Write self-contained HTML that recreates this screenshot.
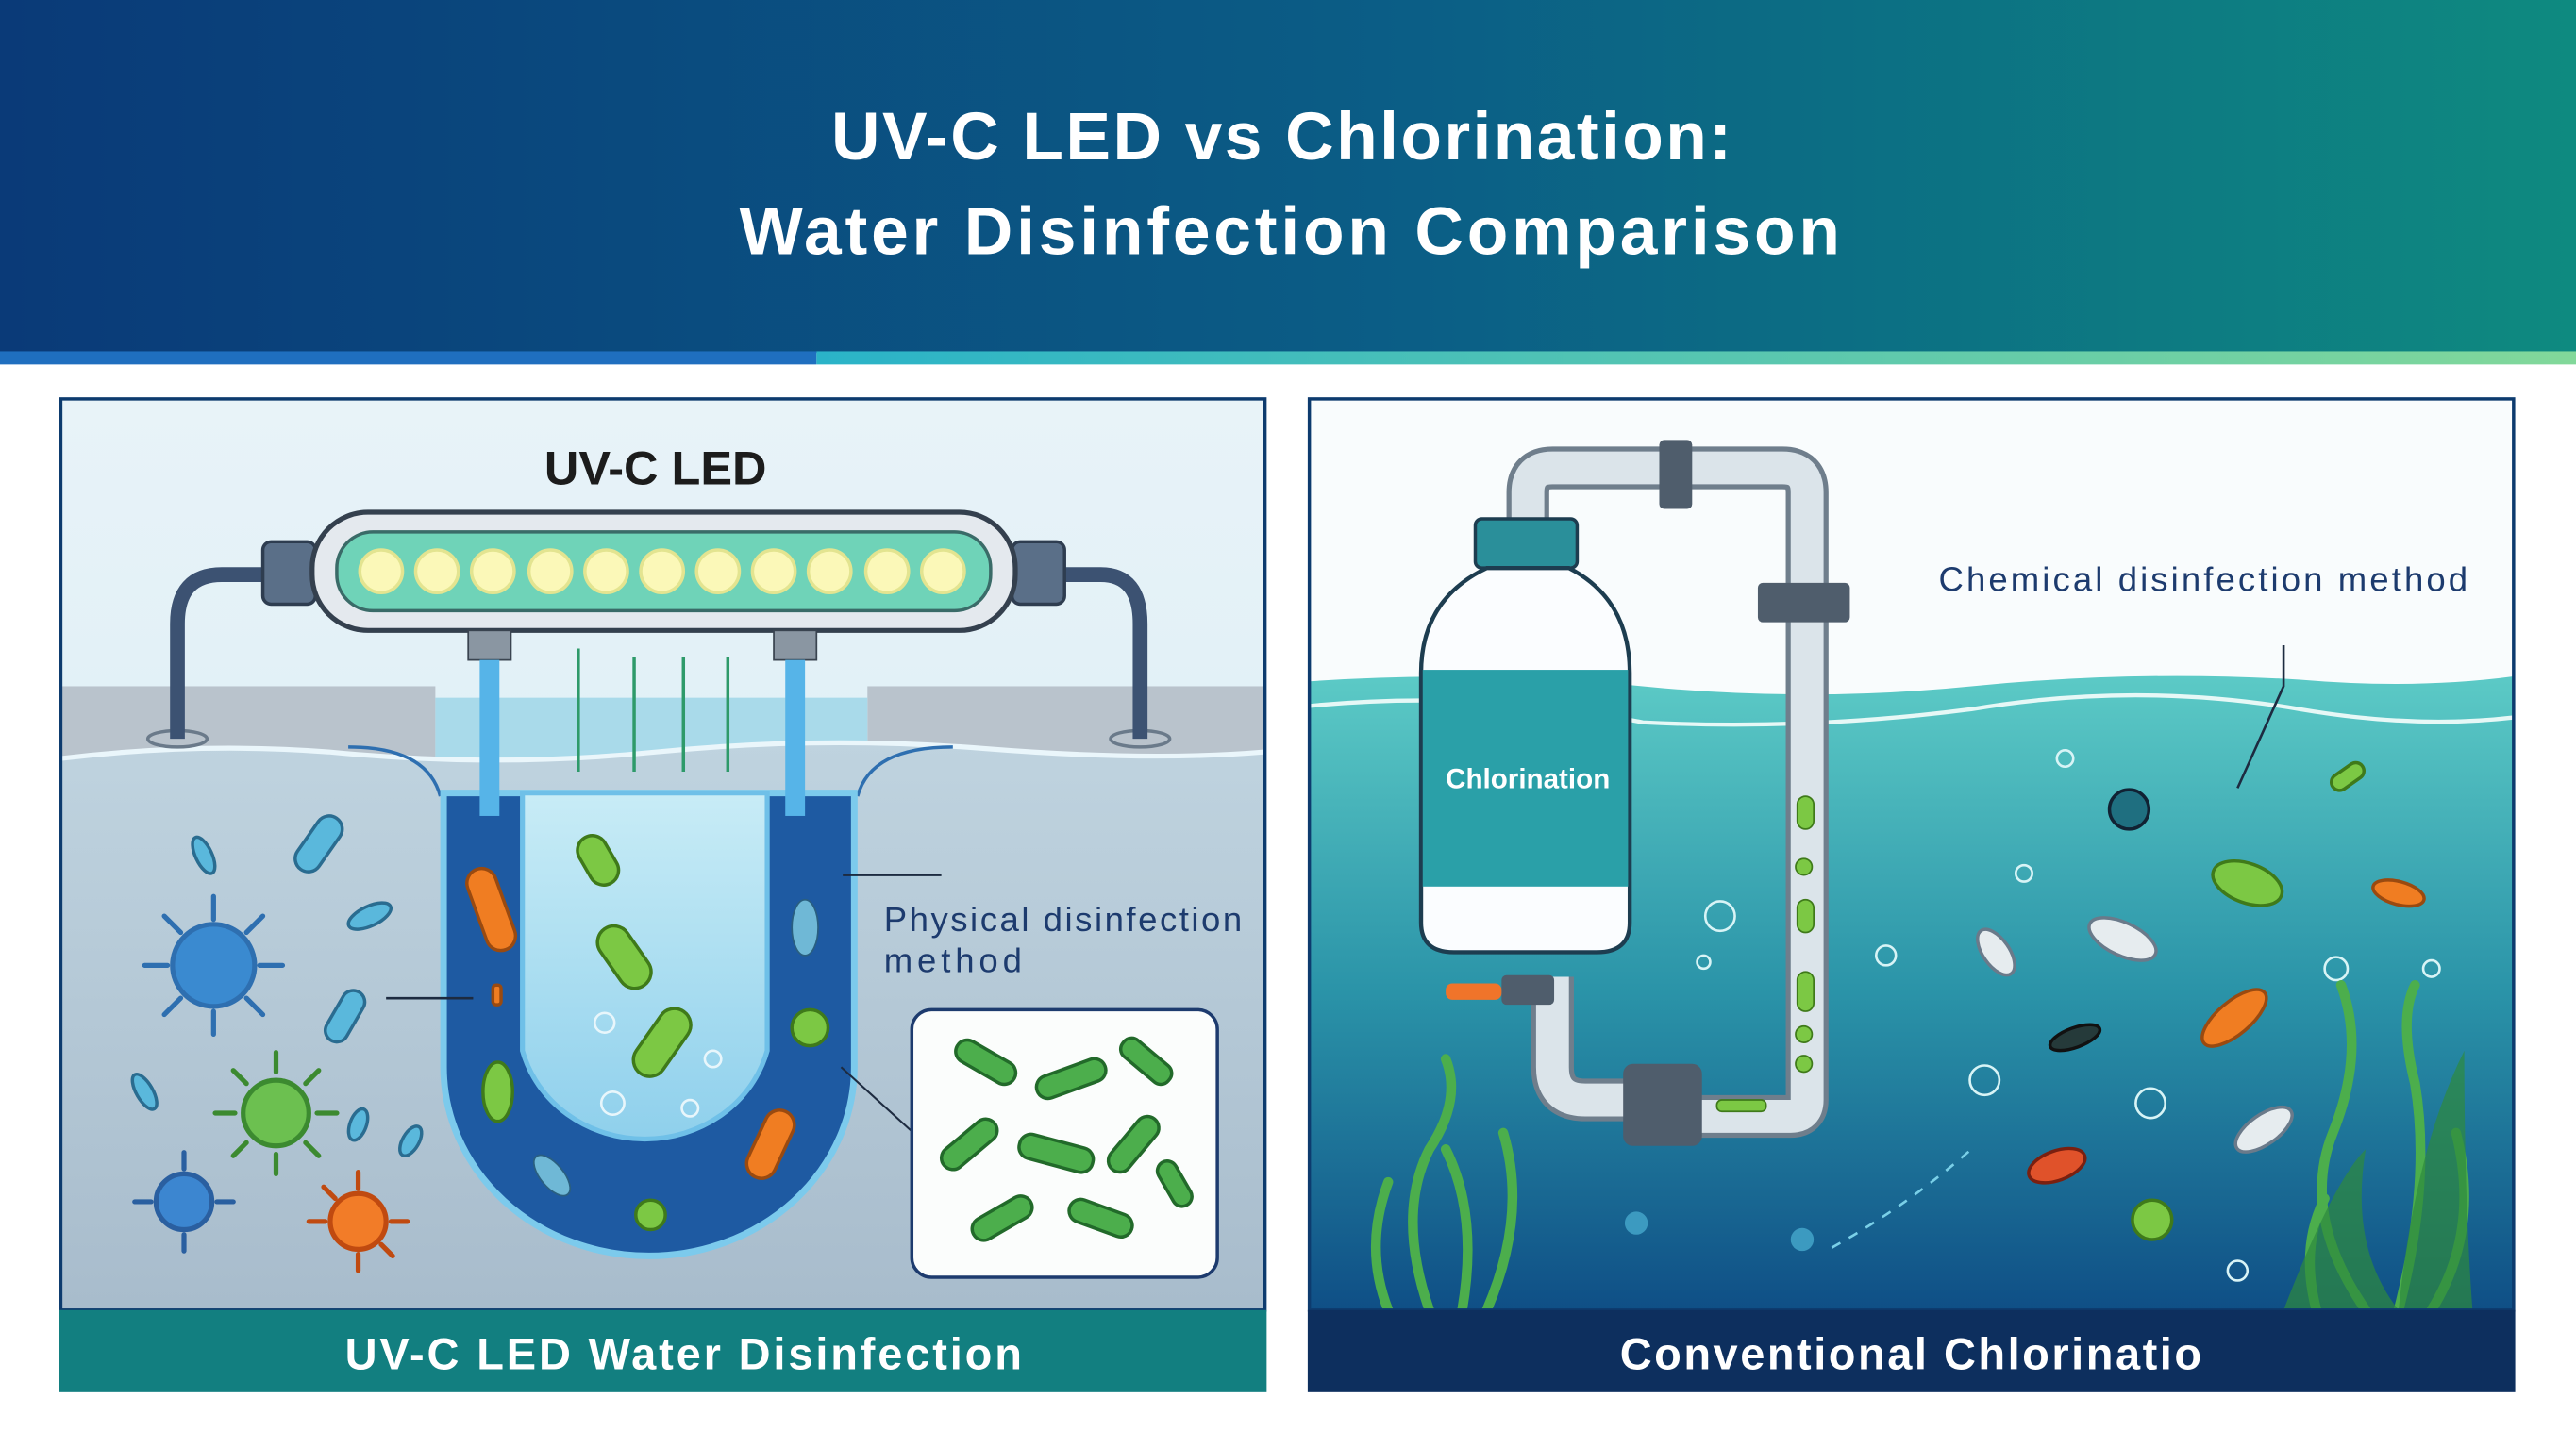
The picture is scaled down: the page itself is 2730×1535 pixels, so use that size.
<!DOCTYPE html>
<html><head><meta charset="utf-8"><style>
html,body{margin:0;padding:0;background:#fff;}
svg{display:block;font-family:"Liberation Sans",sans-serif;}
</style></head><body>
<svg width="2730" height="1535" viewBox="0 0 1568 882" preserveAspectRatio="none" xmlns="http://www.w3.org/2000/svg">
<defs>
<linearGradient id="hdr" x1="0" x2="1" y1="0" y2="0"><stop offset="0" stop-color="#0a3a78"/><stop offset="0.55" stop-color="#0b5e86"/><stop offset="1" stop-color="#0e8a80"/></linearGradient>
<linearGradient id="strip" x1="0" x2="1"><stop offset="0" stop-color="#2ab3c8"/><stop offset="1" stop-color="#82d89a"/></linearGradient>
<linearGradient id="lsky" x1="0" y1="0" x2="0" y2="1"><stop offset="0" stop-color="#e8f3f8"/><stop offset="1" stop-color="#d6ecf4"/></linearGradient>
<linearGradient id="lwater" x1="0" y1="0" x2="0" y2="1"><stop offset="0" stop-color="#bfd3df"/><stop offset="1" stop-color="#a8bccc"/></linearGradient>
<linearGradient id="rwater" x1="0" y1="0" x2="0" y2="1"><stop offset="0" stop-color="#5ccac6"/><stop offset="0.5" stop-color="#2a93a8"/><stop offset="1" stop-color="#0f4f86"/></linearGradient>
<linearGradient id="inner" x1="0" y1="0" x2="0" y2="1"><stop offset="0" stop-color="#c8ecf6"/><stop offset="1" stop-color="#8fd0ec"/></linearGradient>
</defs>
<rect x="0" y="0" width="1568" height="215" fill="url(#hdr)"/>
<rect x="0" y="214" width="497" height="8" fill="#1f6fbf"/>
<rect x="497" y="214" width="1071" height="8" fill="url(#strip)"/>
<text x="780" y="97" text-anchor="middle" fill="#fff" font-size="41" font-weight="bold" textLength="548">UV-C LED vs Chlorination:</text>
<text x="785" y="155" text-anchor="middle" fill="#fff" font-size="41" font-weight="bold" textLength="670">Water Disinfection Comparison</text>

<rect x="37" y="243" width="733" height="555" fill="url(#lsky)"/>
<rect x="37" y="418" width="228" height="45" fill="#b9c3cc"/>
<rect x="528" y="418" width="242" height="45" fill="#b9c3cc"/>
<rect x="265" y="425" width="263" height="40" fill="#a9daea"/>
<path d="M37 462 Q120 452 200 458 Q300 468 400 458 Q500 448 600 456 Q700 464 770 458 L770 798 L37 798 Z" fill="url(#lwater)"/>
<path d="M37 462 Q120 452 200 458 Q300 468 400 458 Q500 448 600 456 Q700 464 770 458" fill="none" stroke="#eaf6fb" stroke-width="3"/>
<ellipse cx="108" cy="450" rx="18" ry="5" fill="none" stroke="#6a7a8a" stroke-width="2"/>
<ellipse cx="694" cy="450" rx="18" ry="5" fill="none" stroke="#6a7a8a" stroke-width="2"/>
<path d="M165 350 L135 350 Q108 350 108 380 L108 450" fill="none" stroke="#3c5272" stroke-width="9"/>
<path d="M643 350 L670 350 Q694 350 694 380 L694 450" fill="none" stroke="#3c5272" stroke-width="9"/>
<rect x="160" y="330" width="32" height="38" rx="5" fill="#5a6f88" stroke="#2e3d50" stroke-width="2"/>
<rect x="616" y="330" width="32" height="38" rx="5" fill="#5a6f88" stroke="#2e3d50" stroke-width="2"/>
<rect x="190" y="312" width="428" height="72" rx="34" fill="#e4e9ee" stroke="#34404e" stroke-width="3"/>
<rect x="205" y="324" width="398" height="48" rx="22" fill="#6fd3b8" stroke="#3a6b68" stroke-width="2"/>
<g fill="#fbf8b8" stroke="#e3e490" stroke-width="2">
<circle cx="232" cy="348" r="13"/><circle cx="266" cy="348" r="13"/><circle cx="300" cy="348" r="13"/><circle cx="335" cy="348" r="13"/><circle cx="369" cy="348" r="13"/><circle cx="403" cy="348" r="13"/><circle cx="437" cy="348" r="13"/><circle cx="471" cy="348" r="13"/><circle cx="505" cy="348" r="13"/><circle cx="540" cy="348" r="13"/><circle cx="574" cy="348" r="13"/></g>
<rect x="285" y="384" width="26" height="18" fill="#8a96a2" stroke="#3a4450"/>
<rect x="471" y="384" width="26" height="18" fill="#8a96a2" stroke="#3a4450"/>
<text x="399" y="295" text-anchor="middle" font-size="29" font-weight="bold" fill="#1c1c1c">UV-C LED</text>
<path d="M212 455 Q260 455 268 485" fill="none" stroke="#2e6fb0" stroke-width="2"/>
<path d="M580 455 Q530 455 522 485" fill="none" stroke="#2e6fb0" stroke-width="2"/>
<path d="M270 483 L270 650 A125 115 0 0 0 520 650 L520 483 Z" fill="#1e5aa2" stroke="#7ccaec" stroke-width="4"/>
<path d="M318 483 L318 640 A77 72 0 0 0 467 640 L467 483 Z" fill="url(#inner)" stroke="#6fc0e8" stroke-width="3"/>
<rect x="292" y="402" width="12" height="95" fill="#56b4e8"/>
<rect x="478" y="402" width="12" height="95" fill="#56b4e8"/>
<g stroke="#2e9a6a" stroke-width="2"><line x1="352" y1="395" x2="352" y2="470"/><line x1="386" y1="400" x2="386" y2="470"/><line x1="416" y1="400" x2="416" y2="470"/><line x1="443" y1="400" x2="443" y2="470"/></g>
<g stroke="#3f7a1a" stroke-width="2" fill="#7cc844">
<rect x="355" y="508" width="18" height="32" rx="9" transform="rotate(-30 364 524)"/>
<rect x="370" y="562" width="20" height="42" rx="10" transform="rotate(-35 380 583)"/>
<rect x="393" y="612" width="20" height="46" rx="10" transform="rotate(35 403 635)"/>
<ellipse cx="303" cy="665" rx="9" ry="18"/>
<circle cx="493" cy="626" r="11"/><circle cx="396" cy="740" r="9"/>
</g>
<g stroke="#9a4a10" stroke-width="2" fill="#f07d22">
<rect x="290" y="528" width="18" height="52" rx="9" transform="rotate(-20 299 554)"/>
<rect x="460" y="675" width="18" height="44" rx="9" transform="rotate(25 469 697)"/>
<rect x="300" y="600" width="5" height="12" rx="2"/></g>
<ellipse cx="490" cy="565" rx="8" ry="17" fill="#6fb8d6" stroke="#2a5f80"/>
<ellipse cx="336" cy="716" rx="7" ry="15" fill="#6fb8d6" stroke="#2a5f80" transform="rotate(-40 336 716)"/>
<g fill="none" stroke="#e8f6fb" stroke-width="1.5"><circle cx="368" cy="623" r="6"/><circle cx="373" cy="672" r="7"/><circle cx="420" cy="675" r="5"/><circle cx="434" cy="645" r="5"/></g>
<g fill="#5ab8dc" stroke="#2a6c90" stroke-width="2">
<ellipse cx="124" cy="521" rx="5" ry="12" transform="rotate(-25 124 521)"/>
<rect x="186" y="495" width="16" height="38" rx="8" transform="rotate(35 194 514)"/>
<ellipse cx="225" cy="558" rx="14" ry="6" transform="rotate(-25 225 558)"/>
<rect x="203" y="602" width="14" height="34" rx="7" transform="rotate(30 210 619)"/>
<ellipse cx="88" cy="665" rx="5" ry="12" transform="rotate(-30 88 665)"/>
<ellipse cx="218" cy="685" rx="5" ry="10" transform="rotate(20 218 685)"/>
<ellipse cx="250" cy="695" rx="5" ry="10" transform="rotate(30 250 695)"/>
</g>
<g stroke-width="3" stroke-linecap="round">
<g stroke="#2e6fb0" fill="#3a8ad0"><path d="M130 560v-14M130 616v14M102 588h-14M158 588h14M110 568l-10-10M150 608l10 10M150 568l10-10M110 608l-10 10"/><circle cx="130" cy="588" r="25"/></g>
<g stroke="#3c8a30" fill="#6cc050"><path d="M168 653v-12M168 703v12M143 678h-12M193 678h12M150 660l-8-8M186 696l8 8M186 660l8-8M150 696l-8 8"/><circle cx="168" cy="678" r="20"/></g>
<g stroke="#2a5fa0" fill="#3c86d0"><path d="M112 712v-10M112 752v10M92 732h-10M132 732h10"/><circle cx="112" cy="732" r="17"/></g>
<g stroke="#c04a10" fill="#f27c28"><path d="M218 724v-10M218 764v10M198 744h-10M238 744h10M204 730l-7-7M232 758l7 7"/><circle cx="218" cy="744" r="17"/></g>
</g>
<line x1="513" y1="533" x2="573" y2="533" stroke="#1d2b40" stroke-width="1.5"/>
<line x1="235" y1="608" x2="288" y2="608" stroke="#1d2b40" stroke-width="1.5"/>
<line x1="512" y1="650" x2="556" y2="690" stroke="#1d2b40" stroke-width="1.2"/>
<text x="538" y="567" font-size="21" fill="#1d3b6e" textLength="218">Physical disinfection</text>
<text x="538" y="592" font-size="21" fill="#1d3b6e" textLength="84">method</text>
<rect x="555" y="615" width="186" height="163" rx="12" fill="#fbfdfc" stroke="#1d3b6e" stroke-width="2"/>
<g fill="#4cae4c" stroke="#226a2a" stroke-width="2">
<rect x="580" y="640" width="40" height="14" rx="7" transform="rotate(30 600 647)"/><rect x="630" y="650" width="44" height="14" rx="7" transform="rotate(-20 652 657)"/><rect x="680" y="640" width="36" height="13" rx="6" transform="rotate(40 698 646)"/>
<rect x="570" y="690" width="40" height="14" rx="7" transform="rotate(-40 590 697)"/><rect x="620" y="695" width="46" height="15" rx="7" transform="rotate(15 643 702)"/><rect x="670" y="690" width="40" height="14" rx="7" transform="rotate(-50 690 697)"/>
<rect x="590" y="735" width="40" height="14" rx="7" transform="rotate(-30 610 742)"/><rect x="650" y="735" width="40" height="14" rx="7" transform="rotate(20 670 742)"/><rect x="700" y="715" width="30" height="12" rx="6" transform="rotate(60 715 721)"/>
</g>
<rect x="37" y="243" width="733" height="555" fill="none" stroke="#0d3b6e" stroke-width="2"/>
<rect x="36" y="798" width="735" height="50" fill="#127f80"/>
<text x="416" y="834" text-anchor="middle" font-size="27" font-weight="bold" fill="#fff" textLength="412">UV-C LED Water Disinfection</text>

<rect x="797" y="243" width="733" height="555" fill="#f9fcfd"/>
<path d="M797 415 Q900 408 1000 418 Q1100 428 1200 418 Q1300 408 1400 414 Q1470 420 1530 412 L1530 798 L797 798 Z" fill="url(#rwater)"/>
<path d="M797 430 Q900 420 1000 440 Q1100 445 1200 432 Q1300 415 1400 432 Q1470 444 1530 437" fill="none" stroke="#e6f8f6" stroke-width="2.5"/>
<path d="M930 330 L930 300 Q930 285 945 285 L1085 285 Q1100 285 1100 300 L1100 670 Q1100 680 1090 680 L1010 680 M945 595 L945 650 Q945 670 965 670 L1010 670" fill="none" stroke="#6f7e8c" stroke-width="26"/>
<path d="M930 330 L930 300 Q930 285 945 285 L1085 285 Q1100 285 1100 300 L1100 670 Q1100 680 1090 680 L1010 680 M945 595 L945 650 Q945 670 965 670 L1010 670" fill="none" stroke="#dbe4ea" stroke-width="20"/>
<rect x="1010" y="268" width="20" height="42" rx="3" fill="#4f5d6c"/>
<rect x="1070" y="355" width="56" height="24" rx="3" fill="#4f5d6c"/>
<rect x="988" y="648" width="48" height="50" rx="6" fill="#4f5d6c"/>
<rect x="914" y="594" width="32" height="18" rx="3" fill="#4f5d6c"/>
<rect x="880" y="599" width="34" height="10" rx="4" fill="#f0742a"/>
<g fill="#7cc844" stroke="#3f7a1a"><rect x="1094" y="485" width="10" height="20" rx="5"/><circle cx="1098" cy="528" r="5"/><rect x="1094" y="548" width="10" height="20" rx="5"/><rect x="1094" y="592" width="10" height="24" rx="5"/><circle cx="1098" cy="630" r="5"/><circle cx="1098" cy="648" r="5"/><rect x="1045" y="670" width="30" height="7" rx="3"/></g>
<rect x="898" y="316" width="62" height="30" rx="4" fill="#2a8f9a" stroke="#1d3d50" stroke-width="2"/>
<path d="M905 346 L955 346 Q992 365 992 410 L992 562 Q992 580 972 580 L885 580 Q865 580 865 562 L865 410 Q865 365 905 346 Z" fill="#fbfdff" stroke="#1d3d50" stroke-width="2.5"/>
<rect x="866" y="408" width="125" height="132" fill="#2aa0a8"/>
<text x="930" y="480" text-anchor="middle" font-size="17" font-weight="bold" fill="#fff">Chlorination</text>
<text x="1180" y="360" font-size="21" fill="#1d3b6e" textLength="322">Chemical disinfection method</text>
<path d="M1390 393 L1390 418 L1362 480" fill="none" stroke="#1d2b40" stroke-width="1.5"/>
<g stroke-width="2">
<circle cx="1296" cy="493" r="12" fill="#1f6f80" stroke="#123"/>
<ellipse cx="1368" cy="538" rx="22" ry="12" fill="#7cc844" stroke="#3f7a1a" transform="rotate(20 1368 538)"/>
<ellipse cx="1460" cy="544" rx="16" ry="7" fill="#f07d22" stroke="#9a4a10" transform="rotate(15 1460 544)"/>
<rect x="1418" y="468" width="22" height="10" rx="5" fill="#7cc844" stroke="#3f7a1a" transform="rotate(-35 1429 473)"/>
<ellipse cx="1215" cy="580" rx="8" ry="16" fill="#e6ecef" stroke="#6a7a8a" transform="rotate(-35 1215 580)"/>
<ellipse cx="1292" cy="572" rx="22" ry="10" fill="#e6ecef" stroke="#6a7a8a" transform="rotate(25 1292 572)"/>
<ellipse cx="1360" cy="620" rx="10" ry="24" fill="#f07d22" stroke="#9a4a10" transform="rotate(50 1360 620)"/>
<ellipse cx="1263" cy="632" rx="16" ry="6" fill="#253a3a" stroke="#111" transform="rotate(-20 1263 632)"/>
<ellipse cx="1378" cy="688" rx="20" ry="9" fill="#e6ecef" stroke="#6a7a8a" transform="rotate(-35 1378 688)"/>
<ellipse cx="1252" cy="710" rx="18" ry="9" fill="#e0522a" stroke="#7a2010" transform="rotate(-20 1252 710)"/>
<circle cx="1310" cy="743" r="12" fill="#7cc844" stroke="#3f7a1a"/>
<circle cx="1097" cy="755" r="7" fill="#3c9ac0"/><circle cx="996" cy="745" r="7" fill="#3c9ac0"/>
</g>
<g fill="none" stroke="#d8f4f6" stroke-width="1.5"><circle cx="1047" cy="558" r="9"/><circle cx="1257" cy="462" r="5"/><circle cx="1232" cy="532" r="5"/><circle cx="1148" cy="582" r="6"/><circle cx="1208" cy="658" r="9"/><circle cx="1309" cy="672" r="9"/><circle cx="1422" cy="590" r="7"/><circle cx="1480" cy="590" r="5"/><circle cx="1362" cy="774" r="6"/><circle cx="1037" cy="586" r="4"/></g>
<path d="M1115 760 Q1160 735 1200 700" fill="none" stroke="#7ad0e8" stroke-width="1.5" stroke-dasharray="6 6"/>
<g fill="none" stroke="#4cae4c" stroke-width="6" stroke-linecap="round">
<path d="M870 798 Q850 740 870 700 Q890 670 880 645"/><path d="M890 798 Q900 740 880 700"/><path d="M905 798 Q930 740 915 690"/><path d="M845 798 Q830 760 845 720"/>
<path d="M1440 798 Q1400 740 1420 690 Q1440 640 1425 600"/><path d="M1460 798 Q1480 720 1470 660 Q1460 620 1470 600"/><path d="M1480 798 Q1510 750 1495 690"/><path d="M1410 798 Q1400 760 1415 730"/>
</g>
<g fill="#2e8a3e" opacity="0.7"><path d="M1390 798 Q1420 720 1440 700 Q1430 760 1460 798 Z"/><path d="M1460 798 Q1470 700 1500 640 Q1500 730 1505 798 Z"/></g>
<rect x="797" y="243" width="733" height="555" fill="none" stroke="#0d3b6e" stroke-width="2"/>
<rect x="796" y="798" width="735" height="50" fill="#0d2f5e"/>
<text x="1163" y="834" text-anchor="middle" font-size="27" font-weight="bold" fill="#fff" textLength="354">Conventional Chlorinatio</text>
</svg>
</body></html>
